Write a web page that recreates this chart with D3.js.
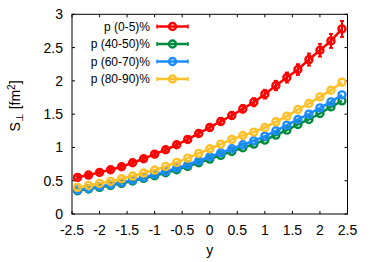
<!DOCTYPE html>
<html>
<head>
<meta charset="utf-8">
<script src="https://cdn.jsdelivr.net/npm/d3@7"></script>
<style>
  body { margin: 0; background: #fff; }
  svg { display: block; font-family: "Liberation Sans", Arial, sans-serif; }
</style>
</head>
<body>
<svg id="chart" width="374" height="262"></svg>
<script>
const xs = [-2.4, -2.2, -2.0, -1.8, -1.6, -1.4, -1.2, -1.0, -0.8, -0.6, -0.4, -0.2, 0,
  0.2, 0.4, 0.6, 0.8, 1.0, 1.2, 1.4, 1.6, 1.8, 2.0, 2.2, 2.4];

const red = [0.55, 0.585, 0.625, 0.665, 0.71, 0.77, 0.83, 0.9, 0.965, 1.04, 1.12, 1.21, 1.3,
  1.39, 1.48, 1.58, 1.68, 1.8, 1.93, 2.05, 2.17, 2.32, 2.46, 2.6, 2.78];
const redErr = [0.02, 0.02, 0.02, 0.025, 0.025, 0.03, 0.03, 0.03, 0.035, 0.035, 0.04, 0.04, 0.045,
  0.045, 0.05, 0.055, 0.06, 0.065, 0.07, 0.075, 0.08, 0.09, 0.095, 0.105, 0.12];
const green = [0.35, 0.375, 0.40, 0.43, 0.46, 0.495, 0.535, 0.575, 0.62, 0.665, 0.715, 0.77, 0.825,
  0.88, 0.94, 0.995, 1.05, 1.11, 1.185, 1.26, 1.345, 1.42, 1.51, 1.61, 1.70];
const blue = [0.36, 0.385, 0.415, 0.445, 0.475, 0.51, 0.55, 0.595, 0.64, 0.69, 0.74, 0.80, 0.86,
  0.92, 0.98, 1.04, 1.10, 1.17, 1.25, 1.335, 1.42, 1.50, 1.595, 1.685, 1.79];
const yellow = [0.40, 0.43, 0.46, 0.49, 0.53, 0.57, 0.615, 0.66, 0.715, 0.775, 0.84, 0.91, 0.98,
  1.05, 1.12, 1.18, 1.23, 1.30, 1.385, 1.47, 1.57, 1.66, 1.76, 1.86, 1.98];

const labels = ['p (0-5)%', 'p (40-50)%', 'p (60-70)%', 'p (80-90)%'];
const colors = ['#ff0000', '#008a3e', '#1a8cff', '#ffbf26'];
const xTicks = [-2.5, -2, -1.5, -1, -0.5, 0, 0.5, 1, 1.5, 2, 2.5];
const yTicks = [0, 0.5, 1, 1.5, 2, 2.5, 3];

const series = [
  { name: labels[0], values: red, err: redErr, color: colors[0] },
  { name: labels[1], values: green, err: null, color: colors[1] },
  { name: labels[2], values: blue, err: null, color: colors[2] },
  { name: labels[3], values: yellow, err: null, color: colors[3] }
];

const svg = d3.select('#chart');
const pLeft = 72, pRight = 347.5, pTop = 14.3, pBottom = 214;

const x = d3.scaleLinear().domain([-2.5, 2.5]).range([pLeft, pRight]);
const y = d3.scaleLinear().domain([0, 3]).range([pBottom, pTop]);

// ticks on all four sides, pointing inward
const tick = 3;
const axes = svg.append('g').attr('stroke', '#000').attr('stroke-width', 1);
xTicks.forEach(t => {
  axes.append('line').attr('x1', x(t)).attr('x2', x(t)).attr('y1', pBottom).attr('y2', pBottom - tick);
  axes.append('line').attr('x1', x(t)).attr('x2', x(t)).attr('y1', pTop).attr('y2', pTop + tick);
});
yTicks.forEach(t => {
  axes.append('line').attr('x1', pLeft).attr('x2', pLeft + tick).attr('y1', y(t)).attr('y2', y(t));
  axes.append('line').attr('x1', pRight).attr('x2', pRight - tick).attr('y1', y(t)).attr('y2', y(t));
});

svg.append('g')
  .selectAll('text')
  .data(xTicks)
  .enter()
  .append('text')
  .attr('x', d => x(d))
  .attr('y', 234.5)
  .attr('text-anchor', 'middle')
  .attr('font-size', '14px')
  .text(d => d);

svg.append('g')
  .selectAll('text')
  .data(yTicks)
  .enter()
  .append('text')
  .attr('x', 63)
  .attr('y', d => y(d) + 5)
  .attr('text-anchor', 'end')
  .attr('font-size', '14px')
  .text(d => d);

svg.append('text')
  .attr('x', (pLeft + pRight) / 2)
  .attr('y', 255)
  .attr('text-anchor', 'middle')
  .attr('font-size', '14px')
  .text('y');

const ylab = svg.append('text')
  .attr('transform', 'translate(20,106) rotate(-90)')
  .attr('text-anchor', 'middle')
  .attr('font-size', '14px');
ylab.append('tspan').text('S');
ylab.append('tspan').attr('font-size', '10px').attr('dy', 3).text('⊥');
ylab.append('tspan').attr('dy', -3).text(' [fm');
ylab.append('tspan').attr('font-size', '10px').attr('dy', -5).text('2');
ylab.append('tspan').attr('dy', 5).text(']');

const line = d3.line().x((d, i) => x(xs[i])).y(d => y(d));
const plot = svg.append('g');

series.forEach(s => {
  const g = plot.append('g');
  if (s.err) {
    s.values.forEach((v, i) => {
      const cx = x(xs[i]);
      g.append('line').attr('x1', cx).attr('x2', cx)
        .attr('y1', y(v - s.err[i])).attr('y2', y(v + s.err[i]))
        .attr('stroke', s.color).attr('stroke-width', 2);
      [v - s.err[i], v + s.err[i]].forEach(e => {
        g.append('line').attr('x1', cx - 2).attr('x2', cx + 2)
          .attr('y1', y(e)).attr('y2', y(e))
          .attr('stroke', s.color).attr('stroke-width', 2);
      });
    });
  }
  g.append('path')
    .datum(s.values)
    .attr('fill', 'none')
    .attr('stroke', s.color)
    .attr('stroke-width', 2.5)
    .attr('d', line);
  g.selectAll('circle')
    .data(s.values)
    .enter()
    .append('circle')
    .attr('cx', (d, i) => x(xs[i]))
    .attr('cy', d => y(d))
    .attr('r', 3.5)
    .attr('fill', 'none')
    .attr('stroke', s.color)
    .attr('stroke-width', 2.4);
});

// legend
const legend = svg.append('g');
series.forEach((s, i) => {
  const ly = 26.5 + i * 17.5;
  legend.append('text')
    .attr('x', 150)
    .attr('y', ly + 4)
    .attr('text-anchor', 'end')
    .attr('font-size', '12px')
    .text(s.name);
  legend.append('line').attr('x1', 157).attr('x2', 188).attr('y1', ly).attr('y2', ly)
    .attr('stroke', s.color).attr('stroke-width', 2.5);
  [157, 188].forEach(ex => {
    legend.append('line').attr('x1', ex).attr('x2', ex).attr('y1', ly - 2).attr('y2', ly + 2)
      .attr('stroke', s.color).attr('stroke-width', 1.5);
  });
  legend.append('circle').attr('cx', 172.5).attr('cy', ly).attr('r', 3.5)
    .attr('fill', 'none').attr('stroke', s.color).attr('stroke-width', 2.4);
});

svg.append('rect')
  .attr('x', pLeft).attr('y', pTop)
  .attr('width', pRight - pLeft).attr('height', pBottom - pTop)
  .attr('fill', 'none').attr('stroke', '#000').attr('stroke-width', 1);
</script>
</body>
</html>
